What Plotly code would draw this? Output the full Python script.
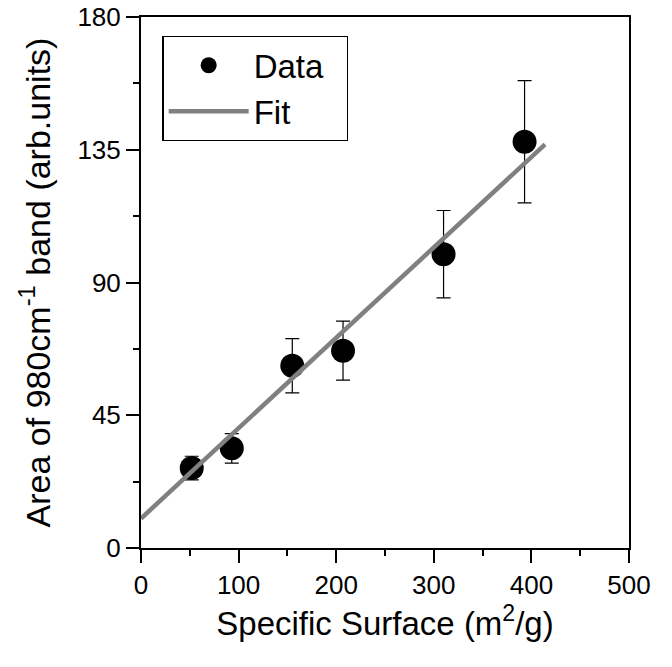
import plotly.graph_objects as go

# Data
surface = [52, 93, 155, 207, 310, 393]          # Specific surface (m^2/g)
area = [27.1, 33.8, 61.8, 66.9, 99.6, 137.7]    # Area of 980 cm^-1 band
area_err = [4.0, 5.0, 9.2, 10.0, 14.8, 20.7]

fit_x = [0, 414]
fit_y = [10.0, 136.8]

x_ticks = [0, 100, 200, 300, 400, 500]
y_ticks = [0, 45, 90, 135, 180]

FONT = "Arial"

fig = go.Figure()
fig.add_trace(go.Scatter(
    x=surface, y=area, mode="markers", name="Data\u00a0\u00a0",
    marker=dict(color="black", size=24),
    error_y=dict(type="data", array=area_err, visible=True,
                 color="black", thickness=1.2, width=7),
))
fig.add_trace(go.Scatter(
    x=fit_x, y=fit_y, mode="lines", name="Fit",
    line=dict(color="#808080", width=4.5),
))

axis_common = dict(
    showline=True, linecolor="black", linewidth=2, mirror=True,
    ticks="outside", ticklen=13, tickwidth=2, tickcolor="black",
    showgrid=False, zeroline=False, automargin=False,
    tickfont=dict(family=FONT, size=26, color="black"),
)

fig.update_xaxes(
    range=[0, 500], tickmode="array", tickvals=x_ticks,
    minor=dict(dtick=50, ticks="outside", ticklen=6, tickwidth=2, tickcolor="black"),
    title=dict(text="Specific Surface (m<sup>2</sup>/g)",
               font=dict(family=FONT, size=33, color="black"), standoff=12),
    **axis_common,
)
fig.update_yaxes(
    range=[0, 180], tickmode="array", tickvals=y_ticks,
    minor=dict(dtick=22.5, ticks="outside", ticklen=6, tickwidth=2, tickcolor="black"),
    title=dict(text="Area of 980cm<sup>-1</sup> band (arb.units)",
               font=dict(family=FONT, size=34, color="black"), standoff=17),
    **axis_common,
)

fig.update_layout(
    width=672, height=667,
    margin=dict(l=141, r=43, t=17, b=119),
    plot_bgcolor="white", paper_bgcolor="white",
    font=dict(family=FONT, color="black"),
    legend=dict(
        x=0.044, y=0.964, xanchor="left", yanchor="top",
        bordercolor="black", borderwidth=1.2, bgcolor="white",
        font=dict(family=FONT, size=33, color="black"),
        itemsizing="trace", itemwidth=80,
        tracegroupgap=0,
    ),
)

fig.write_html("out.html")
